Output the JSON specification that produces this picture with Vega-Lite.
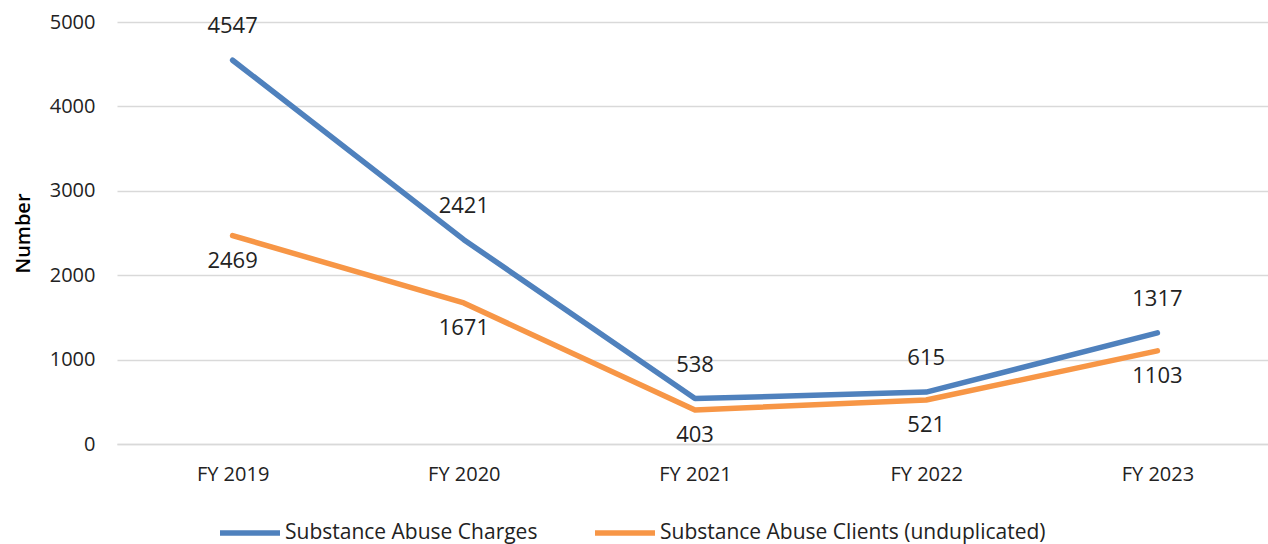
{
  "$schema": "https://vega.github.io/schema/vega-lite/v6.json",
  "width": 1156,
  "height": 422,
  "autosize": "none",
  "padding": {"left": 117, "top": 22, "right": 1, "bottom": 100},
  "background": "white",
  "config": {
    "font": "Open Sans",
    "view": {"stroke": null},
    "axis": {"labelFont": "Open Sans", "titleFont": "Open Sans", "labelColor": "#222", "titleColor": "#000"},
    "legend": {"labelFont": "Open Sans"}
  },
  "data": {
    "values": [
      {"year": "FY 2019", "series": "Substance Abuse Charges", "value": 4547},
      {"year": "FY 2020", "series": "Substance Abuse Charges", "value": 2421},
      {"year": "FY 2021", "series": "Substance Abuse Charges", "value": 538},
      {"year": "FY 2022", "series": "Substance Abuse Charges", "value": 615},
      {"year": "FY 2023", "series": "Substance Abuse Charges", "value": 1317},
      {"year": "FY 2019", "series": "Substance Abuse Clients (unduplicated)", "value": 2469},
      {"year": "FY 2020", "series": "Substance Abuse Clients (unduplicated)", "value": 1671},
      {"year": "FY 2021", "series": "Substance Abuse Clients (unduplicated)", "value": 403},
      {"year": "FY 2022", "series": "Substance Abuse Clients (unduplicated)", "value": 521},
      {"year": "FY 2023", "series": "Substance Abuse Clients (unduplicated)", "value": 1103}
    ]
  },
  "encoding": {
    "x": {
      "field": "year", "type": "ordinal",
      "scale": {"type": "point", "padding": 0.5},
      "axis": {"title": null, "labelAngle": 0, "labelFontSize": 20, "ticks": false, "domainColor": "#d9d9d9", "domainWidth": 1.5, "labelPadding": 20, "grid": false}
    },
    "y": {
      "field": "value", "type": "quantitative",
      "scale": {"domain": [0, 5000], "nice": false},
      "axis": {"title": "Number", "titleFontSize": 20, "titleFontWeight": 600, "titlePadding": 16, "labelFontSize": 20, "values": [0, 1000, 2000, 3000, 4000, 5000], "ticks": false, "domain": false, "gridColor": "#d9d9d9", "gridWidth": 1.5, "labelPadding": 22, "format": "d"}
    }
  },
  "layer": [
    {
      "mark": {"type": "line", "strokeWidth": 5.5, "strokeCap": "round", "strokeJoin": "round"},
      "encoding": {
        "color": {
          "field": "series", "type": "nominal",
          "scale": {"domain": ["Substance Abuse Charges", "Substance Abuse Clients (unduplicated)"], "range": ["#4f81bd", "#f79646"]},
          "legend": {
            "title": null, "orient": "none", "direction": "horizontal",
            "legendX": 100, "legendY": 478,
            "symbolType": "stroke", "symbolSize": 3600, "symbolStrokeWidth": 5.5,
            "labelFontSize": 21, "labelColor": "#222", "labelOffset": 2, "columnPadding": 46, "labelLimit": 500
          }
        }
      }
    },
    {
      "transform": [{"filter": "datum.series === 'Substance Abuse Charges'"}],
      "mark": {"type": "text", "fontSize": 22, "dy": -34, "color": "#222"},
      "encoding": {"text": {"field": "value", "type": "quantitative", "format": "d"}}
    },
    {
      "transform": [{"filter": "datum.series !== 'Substance Abuse Charges'"}],
      "mark": {"type": "text", "fontSize": 22, "dy": 25, "color": "#222"},
      "encoding": {"text": {"field": "value", "type": "quantitative", "format": "d"}}
    }
  ]
}
